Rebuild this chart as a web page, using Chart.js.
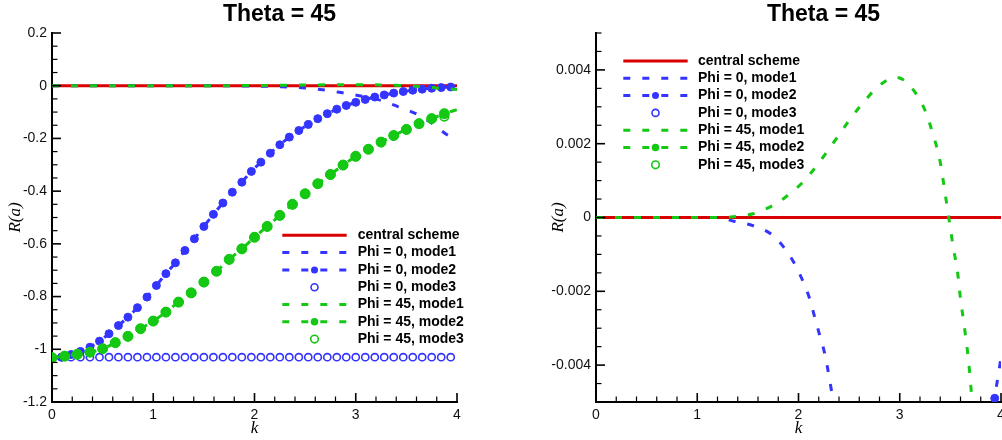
<!DOCTYPE html>
<html>
<head>
<meta charset="utf-8">
<script src="https://cdn.jsdelivr.net/npm/chart.js@4.4.1/dist/chart.umd.min.js"></script>
<style>
  html, body { margin: 0; background: #fff; overflow: hidden; }
  #wrap { position: relative; width: 1002px; height: 440px; overflow: hidden; }
  canvas { position: absolute; top: 0; }
  #leftChart { left: 0; }
  #rightChart { left: 502px; }
</style>
</head>
<body>
<div id="wrap">
  <canvas id="leftChart" width="502" height="440"></canvas>
  <canvas id="rightChart" width="512" height="440"></canvas>
</div>
<script>
// series labels (legend order)
const seriesLabels = [
    'central scheme',
    'Phi = 0, mode1',
    'Phi = 0, mode2',
    'Phi = 0, mode3',
    'Phi = 45, mode1',
    'Phi = 45, mode2',
    'Phi = 45, mode3'
];

// central scheme
const kCentral = [0, 4];
const rCentral = [0, 0];

// Phi = 0, mode1 (dashed)
const kPhi0Mode1 = [0, 1.2, 1.36, 1.55, 1.74, 1.85, 1.95, 2.04, 2.11, 2.16, 2.21, 2.26, 2.32,
    2.4, 2.5, 2.67, 2.87, 3.07, 3.26, 3.42, 3.6, 3.76, 3.92, 4.0];
const rPhi0Mode1 = [0, 0, -0.0001, -0.00022, -0.00047, -0.00079, -0.0012, -0.0017, -0.0022, -0.0027,
    -0.0032, -0.0037, -0.0046, -0.006, -0.0087, -0.015, -0.027, -0.04, -0.057, -0.08, -0.107,
    -0.145, -0.19, -0.2];

// Phi = 0, mode2 and mode3 share this k grid (last point has no symbol)
const kBlue = [0, 0.094, 0.188, 0.281, 0.375, 0.469, 0.563, 0.656, 0.75, 0.844, 0.938,
    1.031, 1.125, 1.219, 1.313, 1.406, 1.5, 1.594, 1.688, 1.781, 1.875,
    1.969, 2.063, 2.156, 2.25, 2.344, 2.438, 2.531, 2.625, 2.719, 2.813,
    2.906, 3.0, 3.094, 3.188, 3.281, 3.375, 3.469, 3.563, 3.656, 3.75,
    3.844, 3.938, 4.0];
const rPhi0Mode2 = [-1.035, -1.03, -1.02, -1.008, -0.992, -0.969, -0.941, -0.91, -0.878, -0.842,
    -0.802, -0.758, -0.713, -0.672, -0.625, -0.581, -0.534, -0.488, -0.445, -0.404,
    -0.366, -0.325, -0.29, -0.256, -0.224, -0.195, -0.17, -0.147, -0.125, -0.106,
    -0.089, -0.075, -0.063, -0.052, -0.043, -0.035, -0.028, -0.022, -0.017, -0.013,
    -0.0095, -0.007, -0.0049, -0.0038];
const rPhi0Mode3 = [-1.03, -1.03, -1.03, -1.03, -1.03, -1.03, -1.03, -1.03, -1.03, -1.03,
    -1.03, -1.03, -1.03, -1.03, -1.03, -1.03, -1.03, -1.03, -1.03, -1.03,
    -1.03, -1.03, -1.03, -1.03, -1.03, -1.03, -1.03, -1.03, -1.03, -1.03,
    -1.03, -1.03, -1.03, -1.03, -1.03, -1.03, -1.03, -1.03, -1.03, -1.03,
    -1.03, -1.03, -1.03];

// Phi = 45, mode1 (dashed)
const kPhi45Mode1 = [0, 1.25, 1.355, 1.55, 1.735, 1.87, 2.03, 2.145, 2.26, 2.38, 2.49, 2.62,
    2.76, 2.85, 2.94, 3.03, 3.15, 3.25, 3.33, 3.4, 3.44, 3.48, 3.53, 3.57, 3.6, 3.64,
    3.68, 3.72, 3.8, 3.9, 4.0];
const rPhi45Mode1 = [0, 0, 0.00002, 0.0001, 0.00031, 0.00055, 0.00092, 0.00128, 0.0017, 0.00216,
    0.00259, 0.00305, 0.00348, 0.00368, 0.0038, 0.00374, 0.0034, 0.0029, 0.00224, 0.0015,
    0.0008, 0.00007, -0.00083, -0.00146, -0.0022, -0.003, -0.0039, -0.0052, -0.0085,
    -0.0115, -0.0145];

// Phi = 45, mode2 and mode3 share this k grid
const kGreen = [0, 0.125, 0.25, 0.375, 0.5, 0.625, 0.75, 0.875, 1, 1.125, 1.25, 1.375, 1.5,
    1.625, 1.75, 1.875, 2, 2.125, 2.25, 2.375, 2.5, 2.625, 2.75, 2.875, 3, 3.125, 3.25,
    3.375, 3.5, 3.625, 3.75, 3.875, 4];
const rPhi45Mode2 = [-1.032, -1.026, -1.019, -1.011, -0.998, -0.975, -0.951, -0.922, -0.893,
    -0.859, -0.821, -0.786, -0.745, -0.704, -0.659, -0.619, -0.575, -0.534, -0.492, -0.45,
    -0.41, -0.372, -0.337, -0.301, -0.268, -0.241, -0.214, -0.189, -0.166, -0.144, -0.125,
    -0.106, -0.091];
const rPhi45Mode3 = [-1.032, -1.026, -1.019, -1.011, -0.998, -0.975, -0.951, -0.922, -0.893,
    -0.859, -0.821, -0.786, -0.745, -0.704, -0.659, -0.619, -0.575, -0.534, -0.492, -0.45,
    -0.41, -0.372, -0.337, -0.301, -0.268, -0.241, -0.214, -0.189, -0.166, -0.144, -0.125,
    -0.117];

// tick labels
const xTickValues = [0, 1, 2, 3, 4];
const leftYTickValues = [-1.2, -1, -0.8, -0.6, -0.4, -0.2, 0, 0.2];
const rightYTickValues = [-0.004, -0.002, 0, 0.002, 0.004];

const RED = '#d80000';
const BLUE = '#3434ff';
const GREEN = '#14c814';
const SANS = 'Arial, "Liberation Sans", Helvetica, sans-serif';
const SERIF = '"Times New Roman", "Liberation Serif", serif';

function pts(ks, rs) {
    return rs.map((r, i) => ({ x: ks[i], y: r }));
}

function makeDatasets(clip) {
    const base = { clip: clip, borderWidth: 3, cubicInterpolationMode: 'monotone' };
    return [
        { ...base, label: seriesLabels[0], data: pts(kCentral, rCentral),
          borderColor: RED, pointRadius: 0, order: 7 },
        { ...base, label: seriesLabels[1], data: pts(kPhi0Mode1, rPhi0Mode1),
          borderColor: BLUE, borderDash: [7, 12], pointRadius: 0, order: 6 },
        { ...base, label: seriesLabels[2], data: pts(kBlue, rPhi0Mode2),
          borderColor: BLUE, borderDash: [7, 12],
          pointRadius: c => c.dataIndex < kBlue.length - 1 ? 4 : 0,
          pointBackgroundColor: BLUE, pointBorderColor: BLUE, pointBorderWidth: 1,
          order: 5, legendPoint: 3.5, legendFill: true },
        { ...base, label: seriesLabels[3], data: pts(kBlue, rPhi0Mode3), showLine: false,
          pointRadius: 3.6, pointBorderWidth: 1.6, pointBorderColor: BLUE,
          pointBackgroundColor: 'rgba(0,0,0,0)', order: 4, legendPoint: 3.5 },
        { ...base, label: seriesLabels[4], data: pts(kPhi45Mode1, rPhi45Mode1),
          borderColor: GREEN, borderDash: [7, 12], pointRadius: 0, order: 3 },
        { ...base, label: seriesLabels[5], data: pts(kGreen, rPhi45Mode2),
          borderColor: GREEN, borderDash: [7, 12],
          pointRadius: c => c.dataIndex < kGreen.length - 1 ? 5 : 0,
          pointBackgroundColor: GREEN, pointBorderColor: GREEN, pointBorderWidth: 1,
          order: 2, legendPoint: 3.8, legendFill: true },
        { ...base, label: seriesLabels[6], data: pts(kGreen, rPhi45Mode3), showLine: false,
          pointRadius: 4.3, pointBorderWidth: 1.6, pointBorderColor: GREEN,
          pointBackgroundColor: 'rgba(0,0,0,0)', order: 1, legendPoint: 3.8 }
    ];
}

// title drawn a bit right of the plot centre, like the original frame
const plotTitle = {
    id: 'plotTitle',
    afterDraw(chart, args, o) {
        const ctx = chart.ctx;
        const ca = chart.chartArea;
        ctx.save();
        ctx.fillStyle = '#000';
        ctx.font = 'bold 23px ' + SANS;
        ctx.textAlign = 'center';
        ctx.textBaseline = 'alphabetic';
        ctx.fillText(o.text, (ca.left + ca.right) / 2 + o.shift, 20.5);
        ctx.restore();
    }
};

// inward major/minor tick marks on the two axes
const innerTicks = {
    id: 'innerTicks',
    afterDraw(chart, args, o) {
        const ctx = chart.ctx;
        const ca = chart.chartArea;
        const xs = chart.scales.x;
        const ys = chart.scales.y;
        ctx.save();
        ctx.strokeStyle = '#000';
        const walk = (scale, major, minor, draw) => {
            const n = Math.round((scale.max - scale.min) / minor);
            for (let i = 0; i <= n; i++) {
                const v = scale.min + i * minor;
                const q = v / major;
                draw(scale.getPixelForValue(v), Math.abs(q - Math.round(q)) < 1e-6);
            }
        };
        walk(xs, o.xMajor, o.xMinor, (px, isMajor) => {
            ctx.lineWidth = isMajor ? 1.6 : 1.2;
            ctx.beginPath();
            ctx.moveTo(px, ca.bottom);
            ctx.lineTo(px, ca.bottom - (isMajor ? 9 : 5.5));
            ctx.stroke();
        });
        walk(ys, o.yMajor, o.yMinor, (py, isMajor) => {
            ctx.lineWidth = isMajor ? 1.6 : 1.2;
            ctx.beginPath();
            ctx.moveTo(ca.left, py);
            ctx.lineTo(ca.left + (isMajor ? 9 : 5.5), py);
            ctx.stroke();
        });
        ctx.restore();
    }
};

// Tecplot style legend box (no frame)
const boxLegend = {
    id: 'boxLegend',
    afterDraw(chart, args, o) {
        const ctx = chart.ctx;
        ctx.save();
        chart.data.datasets.forEach((ds, i) => {
            const y = o.y0 + i * o.dy;
            if (ds.showLine !== false) {
                ctx.strokeStyle = ds.borderColor;
                ctx.lineWidth = ds.borderWidth;
                ctx.setLineDash(ds.borderDash || []);
                ctx.beginPath();
                ctx.moveTo(o.x1, y);
                ctx.lineTo(o.x2, y);
                ctx.stroke();
            }
            if (ds.legendPoint) {
                ctx.setLineDash([]);
                ctx.beginPath();
                ctx.arc((o.x1 + o.x2) / 2, y, ds.legendPoint, 0, 2 * Math.PI);
                if (ds.legendFill) {
                    ctx.fillStyle = ds.pointBackgroundColor;
                    ctx.fill();
                } else {
                    ctx.strokeStyle = ds.pointBorderColor;
                    ctx.lineWidth = 1.6;
                    ctx.stroke();
                }
            }
            ctx.fillStyle = '#000';
            ctx.font = 'bold 14px ' + SANS;
            ctx.textAlign = 'left';
            ctx.textBaseline = 'middle';
            ctx.fillText(ds.label, o.textX, y);
        });
        ctx.restore();
    }
};

const fmt = v => String(parseFloat(Number(v).toFixed(4)));

function makeConfig(side) {
    return {
        type: 'line',
        data: { datasets: makeDatasets(side.clip) },
        options: {
            responsive: false,
            animation: false,
            events: [],
            layout: { padding: side.padding },
            plugins: {
                legend: { display: false },
                tooltip: { enabled: false },
                plotTitle: { text: 'Theta = 45', shift: 25 },
                innerTicks: { xMajor: 1, xMinor: 0.2, yMajor: side.yMajor, yMinor: side.yMinor },
                boxLegend: side.legend
            },
            scales: {
                x: {
                    type: 'linear',
                    min: 0,
                    max: 4,
                    afterBuildTicks: sc => { sc.ticks = xTickValues.map(v => ({ value: v })); },
                    afterFit: sc => { sc.height = 38; sc.paddingLeft = 0; sc.paddingRight = 0; },
                    grid: { display: false, drawTicks: false },
                    border: { display: true, color: '#000', width: 2 },
                    ticks: { font: { family: SANS, size: 14 }, color: '#111', padding: 5,
                             maxRotation: 0, autoSkip: false, callback: fmt },
                    title: { display: true, text: 'k', color: '#000',
                             font: { family: SERIF, size: 17, style: 'italic' },
                             padding: { top: 0, bottom: 1 } }
                },
                y: {
                    type: 'linear',
                    min: side.yMin,
                    max: side.yMax,
                    afterBuildTicks: sc => { sc.ticks = side.yTicks.map(v => ({ value: v })); },
                    afterFit: sc => { sc.width = side.yWidth; sc.paddingTop = 0; sc.paddingBottom = 0; },
                    grid: { display: false, drawTicks: false },
                    border: { display: true, color: '#000', width: 2 },
                    ticks: { font: { family: SANS, size: 14 }, color: '#111', padding: 5,
                             autoSkip: false, callback: fmt },
                    title: { display: true, text: 'R(a)', color: '#000',
                             font: { family: SERIF, size: 17, style: 'italic' },
                             padding: { top: 4, bottom: 0 } }
                }
            }
        },
        plugins: [plotTitle, innerTicks, boxLegend]
    };
}

document.addEventListener('DOMContentLoaded', () => {
    new Chart(document.getElementById('leftChart').getContext('2d'), makeConfig({
        clip: undefined,
        padding: { left: 1, right: 45, top: 33, bottom: 0 },
        yWidth: 51,
        yMin: -1.2, yMax: 0.2, yMajor: 0.2, yMinor: 0.05,
        yTicks: leftYTickValues,
        legend: { x1: 282.3, x2: 346.7, textX: 357.7, y0: 235.3, dy: 17.3 }
    }));

    // canvas runs past the window edge so the last tick label is cut like the original
    new Chart(document.getElementById('rightChart').getContext('2d'), makeConfig({
        clip: 0,
        padding: { left: 42, right: 13, top: 33, bottom: 0 },
        yWidth: 52,
        yMin: -0.005, yMax: 0.005, yMajor: 0.002, yMinor: 0.0005,
        yTicks: rightYTickValues,
        legend: { x1: 121.3, x2: 185.7, textX: 196, y0: 61, dy: 17.3 }
    }));
});
</script>
</body>
</html>
